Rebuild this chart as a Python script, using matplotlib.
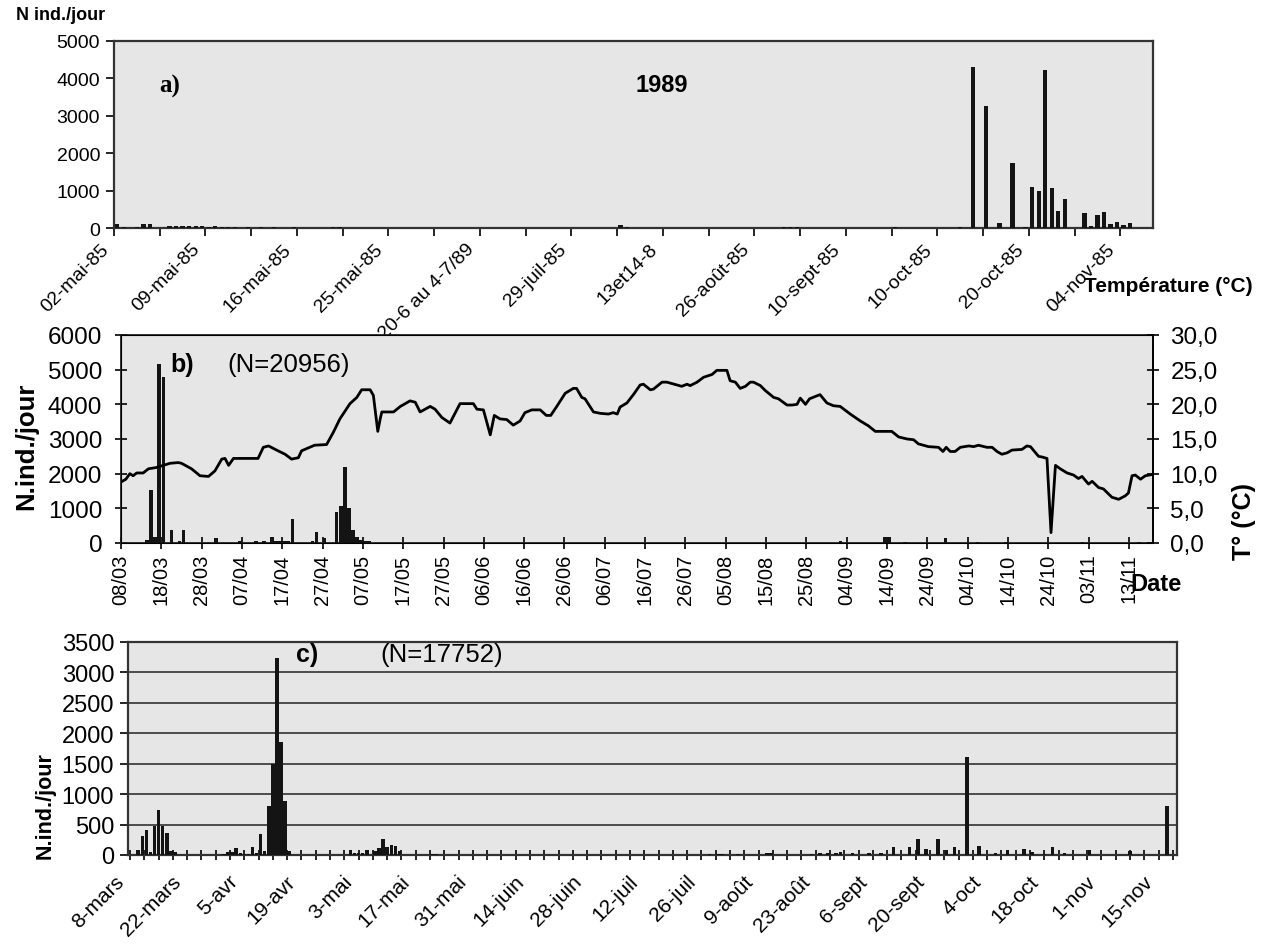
import numpy as np
import matplotlib.pyplot as plt
from matplotlib.transforms import ScaledTranslation

plt.rcParams['font.family'] = ['Liberation Sans', 'DejaVu Sans']

W, H = 1265, 953

# a) 1989 - catches per sampling date (category axis)
a_ncat = 159
a_cat = [0, 1, 3, 4, 5, 8, 9, 10, 11, 12, 13, 14, 15, 16, 17, 18, 20, 22, 24, 27,
         33, 34, 77, 78, 102, 103, 104, 119, 129, 131, 133, 135, 137, 139,
         140, 141, 142, 143, 144, 145, 148, 149, 150, 151, 152, 153, 154, 155]
a_val = [120, 40, 40, 120, 110, 50, 60, 50, 50, 50, 50, 40, 60, 30, 30, 20, 20, 40, 20, 20,
         30, 30, 80, 40, 30, 30, 30, 30, 20, 4300, 3270, 140, 1750, 30,
         1100, 980, 4220, 1060, 460, 770, 410, 50, 340, 420, 120, 160, 70, 140]
a_labels = ['02-mai-85', '09-mai-85', '16-mai-85', '25-mai-85', '20-6 au 4-7/89',
            '29-juil-85', '13et14-8', '26-août-85', '10-sept-85', '10-oct-85',
            '20-oct-85', '04-nov-85']

# b) daily catches + water temperature, days counted from 08/03
b_day = [6, 7, 8, 9, 10, 12, 14, 15, 23, 29, 33, 35, 37, 38, 39, 40, 41, 42, 47, 48,
         50, 53, 54, 55, 56, 57, 58, 59, 60, 61, 178, 189, 190, 194, 204, 212, 219, 238, 252]
b_val = [80, 1520, 170, 5150, 4780, 380, 50, 380, 130, 60, 60, 60, 180, 60, 60, 60, 60, 680, 60, 310,
         130, 900, 1060, 2200, 1000, 370, 180, 100, 60, 60, 50, 180, 180, 30, 150, 30, 30, 30, 40]
t_day = [0, 1.2, 2.2, 3, 3.9, 5.5, 6.8, 8.9, 10.5, 12.2,
         14.2, 15, 17.5, 19.6, 21.7, 23.3, 25, 25.8, 26.7, 27.9,
         30.4, 34, 35.3, 36.6, 38.6, 40.7, 42.3, 44, 44.8, 46,
         48, 51, 52.7, 54.3, 56.8, 58.5, 59.7, 61.8, 62.6, 63.7,
         64.3, 64.7, 67.6, 69.3, 71.7, 73, 74.2, 76.7, 77.9, 79.6,
         81.6, 84.1, 87.4, 88.3, 89.9, 91.6, 92.6, 94, 95.7, 97.3,
         99, 100.2, 101.9, 104, 105.5, 106.6, 108.1, 110.2, 112.2, 113,
         114.3, 115.1, 117.2, 118.9, 120.9, 122.1, 123.1, 123.8, 125.5, 127.1,
         128.8, 129.6, 131.3, 132.1, 134.2, 135.4, 137.9, 139.1, 140.4, 141.2,
         142.9, 144.5, 146.6, 147.8, 150.3, 151.1, 152.4, 153.6, 154.9, 156.1,
         156.9, 158.6, 159.8, 161.9, 163.1, 165.2, 166.5, 167.7, 168.5, 169.8,
         170.8, 173.4, 175.1, 176.7, 178.4, 180.9, 183.4, 185.4, 187.1, 191.2,
         192.9, 195, 196.6, 197.8, 200.3, 202.8, 203.9, 204.7, 205.7, 206.9,
         208.2, 210.3, 211.5, 212.7, 214.8, 216.1, 217.3, 218.5, 219.8, 221,
         223.5, 224.7, 225.6, 227.6, 228.5, 229.7, 230.7, 231.8, 233, 234.7,
         236.3, 237.5, 238.4, 240, 240.9, 242.5, 243.7, 245.8, 247.5, 249.1,
         249.9, 250.8, 251.6, 252.9, 254.1, 256]
t_val = [8.8, 9.2, 10.0, 9.7, 10.1, 10.1, 10.7, 10.9, 11.2, 11.5,
         11.6, 11.5, 10.7, 9.7, 9.6, 10.4, 12.1, 12.2, 11.2, 12.2,
         12.2, 12.2, 13.8, 14.0, 13.4, 12.8, 12.1, 12.3, 13.3, 13.6,
         14.1, 14.2, 16.0, 17.9, 20.1, 21.0, 22.1, 22.1, 21.3, 16.1,
         17.9, 18.9, 18.9, 19.7, 20.5, 20.3, 18.9, 19.7, 19.3, 18.1,
         17.3, 20.1, 20.1, 19.3, 19.2, 15.6, 18.4, 17.9, 17.8, 17.0,
         17.6, 18.8, 19.2, 19.2, 18.4, 18.4, 19.7, 21.6, 22.3, 22.3,
         21.0, 20.8, 18.9, 18.7, 18.6, 18.8, 18.6, 19.6, 20.2, 21.4,
         22.8, 22.9, 22.1, 22.2, 23.2, 23.2, 22.8, 22.6, 22.9, 22.7,
         23.2, 23.9, 24.3, 24.9, 24.9, 23.4, 23.2, 22.3, 22.6, 23.2,
         23.2, 22.7, 22.0, 21.0, 20.8, 19.9, 19.9, 20.0, 20.9, 20.0,
         20.8, 21.4, 20.2, 19.8, 19.7, 18.6, 17.6, 16.9, 16.1, 16.1,
         15.3, 15.0, 14.9, 14.3, 13.9, 13.8, 13.2, 13.8, 13.2, 13.2,
         13.8, 14.0, 13.9, 14.1, 13.8, 13.8, 13.2, 12.8, 13.0, 13.4,
         13.5, 14.0, 13.9, 12.5, 12.4, 12.2, 1.5, 11.2, 10.7, 10.1,
         9.8, 9.3, 9.6, 8.5, 8.9, 8.0, 7.8, 6.6, 6.3, 6.8,
         7.2, 9.7, 9.8, 9.2, 9.7, 9.9]
b_labels = ['08/03', '18/03', '28/03', '07/04', '17/04', '27/04', '07/05', '17/05', '27/05',
            '06/06', '16/06', '26/06', '06/07', '16/07', '26/07', '05/08', '15/08', '25/08',
            '04/09', '14/09', '24/09', '04/10', '14/10', '24/10', '03/11', '13/11']

# c) daily catches, days counted from 8 March
c_day = [2, 3, 4, 5, 6, 7, 8, 9, 10, 11,
         23, 24, 25, 26, 27, 28, 29, 30, 31, 32, 33, 34, 35, 36, 37, 38, 39,
         54, 55, 56, 57, 58, 60, 61, 62, 63, 64, 65, 66,
         74, 75, 142, 144, 145, 149, 156, 157, 167, 169, 171, 173, 174,
         177, 181, 184, 187, 191, 193, 195, 198, 200, 202,
         205, 208, 212, 215, 219, 221, 224, 226, 229, 235, 245, 254]
c_val = [80, 310, 410, 50, 470, 740, 470, 360, 60, 50,
         20, 50, 50, 110, 40, 20, 20, 130, 30, 340, 60, 800, 1500, 3230, 1860, 890, 60,
         90, 30, 30, 40, 80, 60, 120, 270, 130, 170, 140, 60,
         20, 20, 20, 20, 15, 15, 30, 25, 20, 30, 40, 30, 50,
         40, 30, 30, 130, 130, 270, 100, 260, 90, 130,
         1610, 150, 40, 90, 100, 50, 20, 130, 40, 90, 60, 800]
c_labels = ['8-mars', '22-mars', '5-avr', '19-avr', '3-mai', '17-mai', '31-mai', '14-juin',
            '28-juin', '12-juil', '26-juil', '9-août', '23-août', '6-sept', '20-sept',
            '4-oct', '18-oct', '1-nov', '15-nov']

bg = '#e6e6e6'
ink = '#141414'


def box(x0, y0, x1, y1):
    # pixel box (top-left origin) -> figure fraction rect
    return [x0 / W, 1 - y1 / H, (x1 - x0) / W, (y1 - y0) / H]


def ftext(x, y, s, **kw):
    return fig.text(x / W, 1 - y / H, s, **kw)


def shift_labels(axis, dx):
    off = ScaledTranslation(dx / 100, 0, fig.dpi_scale_trans)
    for lab in axis.get_majorticklabels():
        lab.set_transform(lab.get_transform() + off)


fig = plt.figure(figsize=(W / 100, H / 100), dpi=100, facecolor='white')

# ---- panel a
ax = fig.add_axes(box(114, 42, 1153, 229), facecolor=bg)
ax.bar(np.array(a_cat) + 0.5, a_val, width=0.65, color=ink, zorder=3)
ax.set_xlim(0, a_ncat)
ax.set_ylim(0, 5000)
ax.set_yticks(range(0, 5001, 1000))
ticks = np.arange(0, a_ncat, 7)
ax.set_xticks(ticks)
ax.set_xticklabels([a_labels[i // 2] if i % 2 == 0 else '' for i in range(len(ticks))],
                   rotation=45, ha='right', va='center', rotation_mode='anchor', fontsize=14)
ax.tick_params(axis='y', labelsize=14, length=6, width=1.2, direction='out', pad=4)
ax.tick_params(axis='x', length=6, width=1.2, direction='out', pad=7)
shift_labels(ax.xaxis, -8)
for s in ax.spines.values():
    s.set_color('#333333')
    s.set_linewidth(1.6)

ftext(16, 16, 'N ind./jour', fontsize=13, fontweight='bold', va='center')
ftext(170, 86, 'a)', fontsize=18, fontweight='bold', family='Liberation Serif',
      ha='center', va='center')
ftext(662, 86, '1989', fontsize=17, fontweight='bold', ha='center', va='center')

# ---- panel b
bx = fig.add_axes(box(121, 336, 1153, 544), facecolor=bg)
bx.bar(np.array(b_day) + 0.5, b_val, width=0.9, color=ink, zorder=3)
bx.set_xlim(0, 256)
bx.set_ylim(0, 6000)
bx.set_yticks(range(0, 6001, 1000))
bx.set_xticks(range(0, 251, 10))
bx.set_xticklabels(b_labels, rotation=90, fontsize=14.5)
bx.tick_params(axis='y', labelsize=17.5, length=9, width=1.2, direction='inout', pad=9)
bx.tick_params(axis='x', length=9, width=1.2, direction='inout', pad=3)
for s in bx.spines.values():
    s.set_color('#222222')
    s.set_linewidth(1.3)

tx = bx.twinx()
tx.plot(t_day, t_val, color='black', lw=2.0, zorder=4)
tx.set_ylim(0, 30)
tx.set_yticks(range(0, 31, 5))
tx.set_yticklabels(['%d,0' % v for v in range(0, 31, 5)])
tx.tick_params(axis='y', labelsize=17.5, length=9, width=1.2, direction='inout', pad=8)
tx.spines['right'].set_linewidth(1.3)

ftext(182, 365, 'b)', fontsize=18, fontweight='bold', ha='center', va='center')
ftext(227, 365, '(N=20956)', fontsize=18.5, va='center')
ftext(26, 446, 'N.ind./jour', fontsize=18.5, fontweight='bold', rotation=90,
      ha='center', va='center')
ftext(1244, 522, 'T° (°C)', fontsize=18, fontweight='bold', rotation=90,
      ha='center', va='center')
ftext(1156, 585, 'Date', fontsize=17, fontweight='bold', ha='center', va='center')
ftext(1084, 287, 'Température (°C)', fontsize=15, fontweight='bold', va='center')

# ---- panel c
cx = fig.add_axes(box(128, 643, 1177, 856), facecolor=bg)
cx.bar(c_day, c_val, width=0.85, color=ink, zorder=3)
cx.set_xlim(-0.5, 256.5)
cx.set_ylim(0, 3500)
cx.set_yticks(range(0, 3501, 500))
cx.yaxis.grid(True, color='#333333', lw=1.2)
cx.set_axisbelow(True)
cx.set_xticks(range(0, 253, 14))
cx.set_xticks(np.arange(0, 256, 3.5), minor=True)
cx.set_xticklabels(c_labels, rotation=45, ha='right', va='center', rotation_mode='anchor',
                   fontsize=15)
cx.tick_params(axis='y', labelsize=17, length=6, width=1.2, direction='out', pad=4)
cx.tick_params(axis='x', which='both', length=7, width=1.2, direction='inout', pad=13)
shift_labels(cx.xaxis, -9)
for s in cx.spines.values():
    s.set_color('#333333')
    s.set_linewidth(1.6)

ftext(307, 655, 'c)', fontsize=18, fontweight='bold', ha='center', va='center')
ftext(380, 655, '(N=17752)', fontsize=18.5, va='center')
ftext(45, 806, 'N.ind./jour', fontsize=15.5, fontweight='bold', rotation=90,
      ha='center', va='center')

fig.savefig('out.png', dpi=100, facecolor='white')
